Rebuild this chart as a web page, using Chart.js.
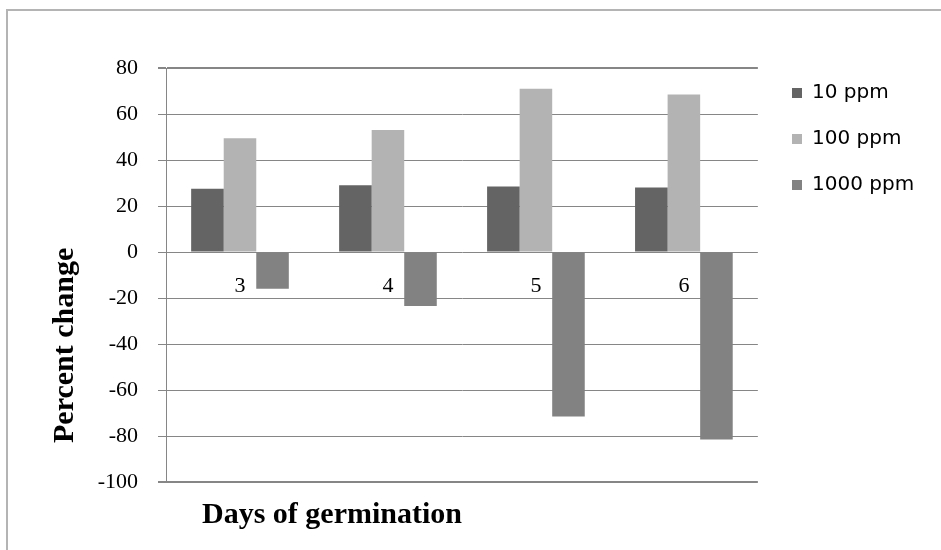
<!DOCTYPE html>
<html>
<head>
<meta charset="utf-8">
<script src="https://cdn.jsdelivr.net/npm/chart.js@4.4.1/dist/chart.umd.min.js"></script>
<style>
  html, body { margin: 0; padding: 0; background: #fff; }
  #wrap { position: relative; width: 941px; height: 550px; }
  #frame { position: absolute; left: 6px; top: 9px; right: 0; bottom: 0;
           border-left: 2px solid #b4b4b4; border-top: 2px solid #b4b4b4; }
  #chart { position: absolute; left: 0; top: 0; }
</style>
</head>
<body>
<div id="wrap">
  <div id="frame"></div>
  <canvas id="chart" width="941" height="550"></canvas>
</div>
<script>
// days of germination
const categories = ["3", "4", "5", "6"];
const seriesNames = ["10 ppm", "100 ppm", "1000 ppm"];
const ppm10 = [27.5, 29, 28.5, 28];
const ppm100 = [49.5, 53, 71, 68.5];
const ppm1000 = [-16, -23.5, -71.5, -81.5];
const seriesColors = ["#646464", "#b3b3b3", "#828282"];
const yMin = -100, yMax = 80, yStep = 20;

const serif = "'Liberation Serif', 'Times New Roman', serif";

// axis titles and legend placement like the original figure
const figureText = {
  id: "figureText",
  afterLayout(chart) {
    const lg = chart.legend;
    if (!lg) return;
    const w = lg.width, h = lg.height;
    lg.left = 766; lg.top = 57;
    lg.right = lg.left + w; lg.bottom = lg.top + h;
  },
  afterDraw(chart) {
    const ctx = chart.ctx;
    ctx.save();
    ctx.fillStyle = "#000";
    ctx.font = "bold 30px " + serif;
    ctx.textAlign = "left";
    ctx.textBaseline = "alphabetic";
    ctx.fillText("Days of germination", 202, 523);
    ctx.translate(73, 443);
    ctx.rotate(-Math.PI / 2);
    ctx.fillText("Percent change", 0, 0);
    ctx.restore();
  }
};

new Chart(document.getElementById("chart"), {
  type: "bar",
  data: {
    labels: categories,
    datasets: [
      { label: seriesNames[0], data: ppm10, backgroundColor: seriesColors[0] },
      { label: seriesNames[1], data: ppm100, backgroundColor: seriesColors[1] },
      { label: seriesNames[2], data: ppm1000, backgroundColor: seriesColors[2] }
    ]
  },
  options: {
    responsive: false,
    animation: false,
    layout: { padding: { top: 68, right: 25, bottom: 68, left: 0 } },
    datasets: { bar: { barPercentage: 1, categoryPercentage: 0.66 } },
    scales: {
      x: {
        position: { y: 0 },
        offset: true,
        grid: { display: false, drawTicks: false },
        border: { display: false },
        ticks: { color: "#000", font: { family: serif, size: 22 }, padding: 21, maxRotation: 0 }
      },
      y: {
        min: yMin,
        max: yMax,
        ticks: { stepSize: yStep, color: "#000", font: { family: serif, size: 22 }, padding: 20 },
        grid: {
          color: "#868686",
          tickLength: 8,
          lineWidth: c => (c.tick && (c.tick.value === yMin || c.tick.value === yMax)) ? 2 : 1
        },
        border: { color: "#868686" },
        afterFit: s => { s.width = 166; }
      }
    },
    plugins: {
      legend: {
        position: "right",
        align: "start",
        labels: {
          color: "#000",
          boxWidth: 10,
          boxHeight: 10,
          padding: 26,
          font: { family: "'DejaVu Sans', sans-serif", size: 20 }
        }
      },
      tooltip: { enabled: false }
    }
  },
  plugins: [figureText]
});
</script>
</body>
</html>
